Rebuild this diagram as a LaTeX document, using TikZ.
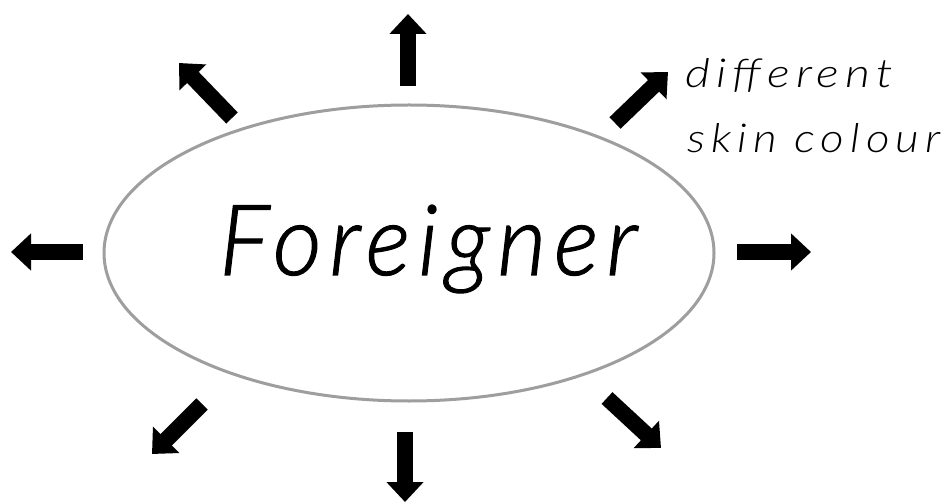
\documentclass[tikz,border=0pt]{standalone}
\usepackage{fontspec}
\setmainfont{DejaVu Sans}
\newfontfamily\handfont[LetterSpace=13]{Lato Light Italic}
\newfontfamily\bighand[LetterSpace=8,FakeBold=1.2]{Lato Light Italic}
\usetikzlibrary{arrows.meta}
\tikzset{
  ray/.style={line width=16pt, line cap=butt, -{Triangle[width=36pt,length=20pt]}},
  oval/.style={draw=black!38, line width=3pt}
}
\begin{document}
\begin{tikzpicture}[x=1pt,y=-1pt]
\useasboundingbox (0,0) rectangle (944,502);
\fill[white] (0,0) rectangle (944,502);
\draw[oval] (409,253) ellipse [x radius=305, y radius=148];
\node[anchor=base west, inner sep=0pt] (main) at (219,275)
  {\resizebox{418pt}{70pt}{\bighand Foreigner}};
\node[anchor=base west, inner sep=0pt] (diff) at (685,88)
  {\resizebox{208pt}{29pt}{\handfont different}};
\node[anchor=base west, inner sep=0pt] (skin) at (687,153)
  {\resizebox{253pt}{29pt}{\handfont skin colour}};
% arrow ends
\coordinate (nA) at (408,86);  \coordinate (nB) at (408,14);
\coordinate (sA) at (405,432); \coordinate (sB) at (405,502);
\coordinate (wA) at (83,252);  \coordinate (wB) at (11,252);
\coordinate (eA) at (737,252); \coordinate (eB) at (811,252);
\coordinate (swA) at (202,404); \coordinate (swB) at (152,454);
\coordinate (seA) at (607,398); \coordinate (seB) at (661,448);
\coordinate (nwA) at (232,118); \coordinate (nwB) at (179,63);
\coordinate (neA) at (615,123); \coordinate (neB) at (668,72);
\foreach \d in {n,s,w,e,sw,se,nw,ne}{
  \draw[ray] (\d A) -- (\d B);
}
\end{tikzpicture}
\end{document}
